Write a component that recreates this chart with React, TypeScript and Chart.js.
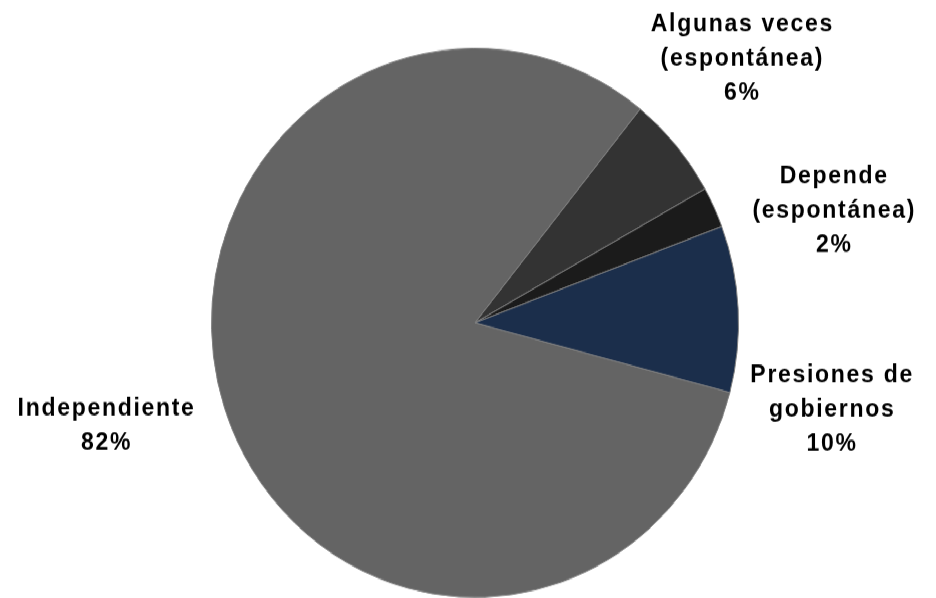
import { useEffect, useRef } from "react";
import { Chart, registerables } from "chart.js";

Chart.register(...registerables);

// ---- data ----
const categories: string[][] = [
  ["Independiente"],
  ["Algunas veces", "(espontánea)"],
  ["Depende", "(espontánea)"],
  ["Presiones de", "gobiernos"],
];
const values: number[] = [81.7, 6.1, 2.4, 9.8];
const colors: string[] = ["#646464", "#333333", "#1b1b1b", "#1b2e4b"];

// ---- label layout (relative to each arc) ----
const labelRadius: number[] = [1.449, 1.4, 1.422, 1.3875];
const labelAngleShift: number[] = [3.5, -3.54, 7.93, 15.9];

const SCALE_Y = 1.0414;

const labelPlugin = {
  id: "outsideLabels",
  afterDatasetsDraw(chart: any) {
    const ctx: CanvasRenderingContext2D = chart.ctx;
    const meta = chart.getDatasetMeta(0);
    const total = values.reduce((a, b) => a + b, 0);
    ctx.save();
    ctx.font = "bold 23px 'Liberation Sans', Arial, sans-serif";
    ctx.fillStyle = "#000";
    ctx.textAlign = "center";
    ctx.textBaseline = "alphabetic";
    (ctx as any).letterSpacing = "1.7px";
    const lh = 33;
    const cap = 16.6;
    meta.data.forEach((arc: any, i: number) => {
      const { x, y, startAngle, endAngle, outerRadius } = arc.getProps(
        ["x", "y", "startAngle", "endAngle", "outerRadius"],
        true
      );
      const mid = (startAngle + endAngle) / 2 + (labelAngleShift[i] * Math.PI) / 180;
      const r = outerRadius * labelRadius[i];
      const cx = x + r * Math.cos(mid);
      const cy = y + r * Math.sin(mid);
      const lines = [...categories[i], Math.round((values[i] / total) * 100) + "%"];
      const n = lines.length;
      lines.forEach((t, j) => {
        const by = cy + (j - (n - 1) / 2) * lh + cap / 2;
        ctx.fillText(t, cx + 0.85, by);
      });
    });
    ctx.restore();
  },
};

export default function App() {
  const ref = useRef<HTMLCanvasElement>(null);
  useEffect(() => {
    const chart = new Chart(ref.current as HTMLCanvasElement, {
      type: "pie",
      data: {
        labels: categories.map((c) => c.join(" ")),
        datasets: [
          {
            data: values,
            backgroundColor: colors,
            borderColor: "#808080",
            borderWidth: 1,
          },
        ],
      },
      options: {
        responsive: false,
        animation: false,
        rotation: 104.7,
        layout: { padding: { left: 14, right: 0, top: 46, bottom: 0 } },
        plugins: { legend: { display: false }, tooltip: { enabled: false } },
      } as any,
      plugins: [labelPlugin],
    });
    return () => chart.destroy();
  }, []);
  return (
    <div
      style={{
        position: "absolute",
        left: 0,
        top: 0,
        width: 936,
        height: 574,
        transform: `scaleY(${SCALE_Y})`,
        transformOrigin: "0 0",
        background: "#fff",
      }}
    >
      <canvas ref={ref} width={936} height={574} style={{ display: "block", width: 936, height: 574 }} />
    </div>
  );
}
